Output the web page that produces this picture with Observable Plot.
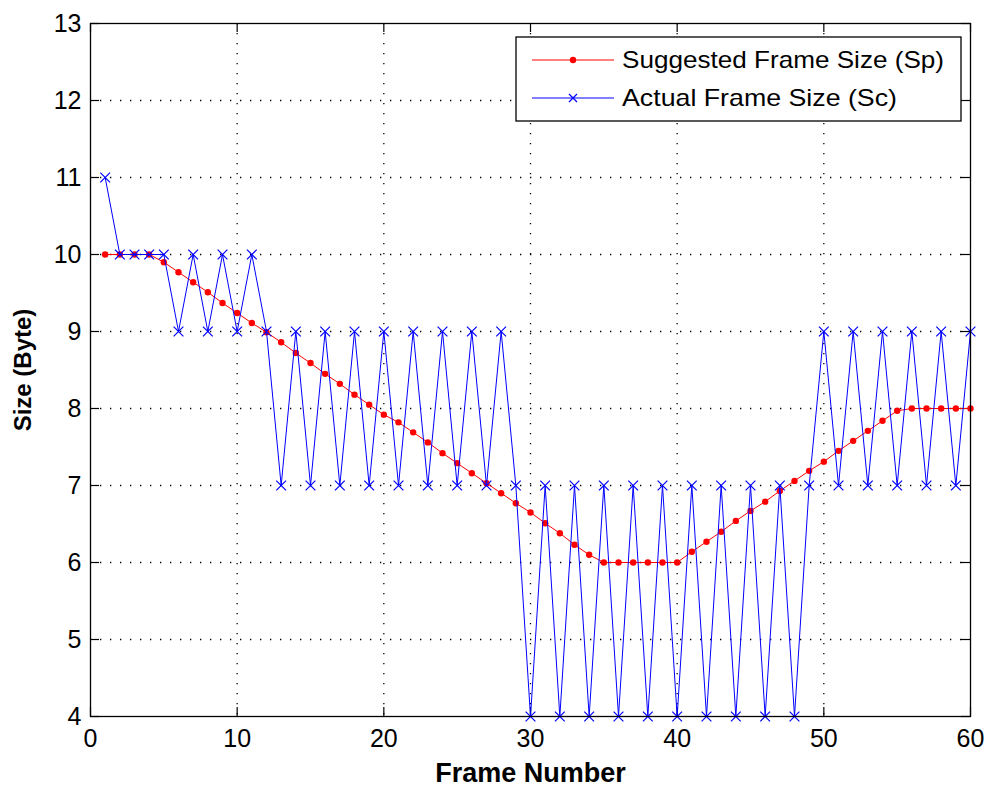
<!DOCTYPE html>
<html>
<head>
<meta charset="utf-8">
<script src="https://cdn.jsdelivr.net/npm/d3@7"></script>
<script src="https://cdn.jsdelivr.net/npm/@observablehq/plot@0.6"></script>
<style>
  html, body { margin: 0; padding: 0; background: #fff; }
  #chart { width: 984px; height: 787px; }
</style>
</head>
<body>
<div id="chart"></div>
<script>
const frames = [1,2,3,4,5,6,7,8,9,10,11,12,13,14,15,16,17,18,19,20,21,22,23,24,25,26,27,28,29,30,
                31,32,33,34,35,36,37,38,39,40,41,42,43,44,45,46,47,48,49,50,51,52,53,54,55,56,57,58,59,60];
const suggested = [10,10,10,10,9.9,9.77,9.64,9.51,9.37,9.24,9.11,8.99,8.86,8.72,8.59,8.45,8.32,8.18,8.05,7.92,
                   7.82,7.69,7.56,7.42,7.29,7.16,7.03,6.90,6.77,6.65,6.51,6.38,6.23,6.10,6,6,6,6,6,6,
                   6.14,6.27,6.40,6.54,6.67,6.79,6.93,7.06,7.19,7.31,7.45,7.58,7.71,7.84,7.97,8,8,8,8,8];
const actual = [11,10,10,10,10,9,10,9,10,9,10,9,7,9,7,9,7,9,7,9,7,9,7,9,7,9,7,9,7,
                4,7,4,7,4,7,4,7,4,7,4,7,4,7,4,7,4,7,4,7,9,7,9,7,9,7,9,7,9,7,9];
const xTicks = [0,10,20,30,40,50,60];
const yTicks = [4,5,6,7,8,9,10,11,12,13];
const xGrid = [10,20,30,40,50];
const yGrid = [5,6,7,8,9,10,11,12];
const seriesNames = ["Suggested Frame Size (Sp)", "Actual Frame Size (Sc)"];
const seriesColors = ["#ff0000", "#0000ff"];
const xLabel = "Frame Number";
const yLabel = "Size (Byte)";

const sp = frames.map((f, i) => ({frame: f, value: suggested[i]}));
const sc = frames.map((f, i) => ({frame: f, value: actual[i]}));

const W = 984, H = 787;
const mL = 90, mR = 14, mT = 23, mB = 71;
const plotW = W - mL - mR, plotH = H - mT - mB;
const tick = 9;
const font = "'Liberation Sans', Arial, sans-serif";

const chart = Plot.plot({
  width: W,
  height: H,
  marginLeft: mL, marginRight: mR, marginTop: mT, marginBottom: mB,
  style: {fontFamily: font, fontSize: "25px", color: "#000", background: "#fff"},
  x: {domain: [0, 60], label: null},
  y: {domain: [4, 13], label: null},
  marks: [
    Plot.ruleX(xGrid, {x: d => d, stroke: "#000", strokeWidth: 1.3, strokeDasharray: "1.3,8.7"}),
    Plot.ruleY(yGrid, {y: d => d, stroke: "#000", strokeWidth: 1.3, strokeDasharray: "1.3,8.7"}),
    Plot.tickX(xTicks, {x: d => d, stroke: "#000", strokeWidth: 1.2, insetTop: plotH - tick}),
    Plot.tickX(xTicks, {x: d => d, stroke: "#000", strokeWidth: 1.2, insetBottom: plotH - tick}),
    Plot.tickY(yTicks, {y: d => d, stroke: "#000", strokeWidth: 1.2, insetRight: plotW - tick}),
    Plot.tickY(yTicks, {y: d => d, stroke: "#000", strokeWidth: 1.2, insetLeft: plotW - tick}),
    Plot.axisX(xTicks, {tickSize: 0, tickPadding: 13, label: null, fontSize: 25, tickFormat: d => String(d)}),
    Plot.axisY(yTicks, {tickSize: 0, tickPadding: 9, label: null, fontSize: 25, tickFormat: d => String(d)}),
    Plot.line(sp, {x: "frame", y: "value", stroke: seriesColors[0], strokeWidth: 1}),
    Plot.dot(sp, {x: "frame", y: "value", fill: seriesColors[0], r: 3.2, symbol: "circle"}),
    Plot.line(sc, {x: "frame", y: "value", stroke: seriesColors[1], strokeWidth: 1}),
    Plot.dot(sc, {x: "frame", y: "value", stroke: seriesColors[1], r: 4.5, symbol: "times", strokeWidth: 1.2}),
    Plot.frame({stroke: "#000", strokeWidth: 1.3}),
    Plot.text([xLabel], {frameAnchor: "bottom", lineAnchor: "middle", textAnchor: "middle", dy: 57,
                         fontWeight: "bold", fontSize: 27, fill: "#000"}),
    Plot.text([yLabel], {frameAnchor: "left", lineAnchor: "middle", textAnchor: "middle", dx: -67, rotate: -90,
                         fontWeight: "bold", fontSize: 24, fill: "#000"})
  ]
});

// Legend box inside plot area (top-right)
const svg = d3.select(chart);
const lg = svg.append("g").attr("font-family", font).attr("font-size", 24).attr("text-anchor", "start");
const lx = 516, ly = 37, lw = 445, lh = 84;
lg.append("rect").attr("x", lx).attr("y", ly).attr("width", lw).attr("height", lh)
  .attr("fill", "#fff").attr("stroke", "#000").attr("stroke-width", 1.3);
const textLens = [322, 275];
seriesNames.forEach((name, i) => {
  const cy = ly + 23 + i * 38;
  lg.append("line").attr("x1", lx + 16).attr("x2", lx + 98).attr("y1", cy).attr("y2", cy)
    .attr("stroke", seriesColors[i]).attr("stroke-width", 1);
  const mx = lx + 57;
  if (i === 0) {
    lg.append("circle").attr("cx", mx).attr("cy", cy).attr("r", 3.2).attr("fill", seriesColors[i]);
  } else {
    lg.append("path").attr("d", `M${mx-4},${cy-4}L${mx+4},${cy+4}M${mx-4},${cy+4}L${mx+4},${cy-4}`)
      .attr("stroke", seriesColors[i]).attr("stroke-width", 1.2);
  }
  lg.append("text").attr("x", lx + 106).attr("y", cy).attr("dy", "0.35em")
    .attr("textLength", textLens[i]).attr("lengthAdjust", "spacingAndGlyphs")
    .attr("fill", "#000").text(name);
});

document.getElementById("chart").appendChild(chart);
</script>
</body>
</html>
